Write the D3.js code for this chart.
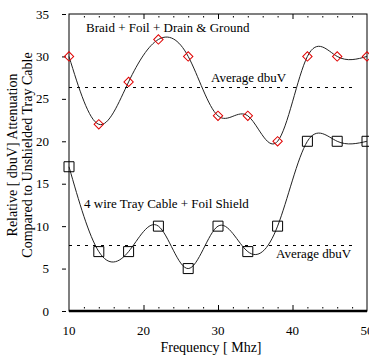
<!DOCTYPE html>
<meta charset="utf-8">
<head>
	<style>
		body { margin: 0; background: #fff; }
		text { font-family: "Liberation Serif", "Times New Roman", serif; fill: #000; }
		.curve { fill: none; stroke: #222; stroke-width: 1; }
		.avg { stroke: #000; stroke-dasharray: 3,5; }
	</style>
	<script src="https://d3js.org/d3.v7.min.js"></script>
</head>
<body></body>
<script>

	var freq = [10, 14, 18, 22, 26, 30, 34, 38, 42, 46, 50];
	var braidValues = [30, 22, 27, 32, 30, 23, 23, 20, 30, 30, 30];
	var trayValues = [17, 7, 7, 10, 5, 10, 7, 10, 20, 20, 20];
	var averages = [26.4, 7.8];
	var xTicks = [10, 20, 30, 40, 50];
	var yTicks = [0, 5, 10, 15, 20, 25, 30, 35];

	var width = 369,
			height = 358,
			margin = {top: 14, right: 2, bottom: 47, left: 69};

	var svg = d3.select("body").append("svg")
		.attr("width", width)
		.attr("height", height);

	var x = d3.scaleLinear().domain([10, 50]).range([margin.left, width - margin.right]);
	var y = d3.scaleLinear().domain([0, 35]).range([height - margin.bottom, margin.top]);

	// frame
	svg.append("rect")
		.attr("x", x(10)).attr("y", y(35))
		.attr("width", x(50) - x(10)).attr("height", y(0) - y(35))
		.attr("fill", "none").attr("stroke", "#000");

	// thick bottom line
	svg.append("line")
		.attr("x1", x(10)).attr("x2", x(50))
		.attr("y1", y(0)).attr("y2", y(0))
		.attr("stroke", "#000").attr("stroke-width", 2.5);

	// y ticks + labels
	var yAxis = svg.append("g").selectAll("g").data(yTicks).enter().append("g");
	yAxis.append("line")
		.attr("x1", x(10) - 7).attr("x2", x(10) - 3)
		.attr("y1", function(d) {return y(d) + 0.5}).attr("y2", function(d) {return y(d) + 0.5})
		.attr("stroke", "#000");
	yAxis.append("text")
		.attr("x", x(10) - 20).attr("y", function(d) {return y(d) + 4.5})
		.attr("text-anchor", "end").style("font-size", "13px")
		.text(function(d) {return d});

	// x labels
	svg.append("g").selectAll("text").data(xTicks).enter().append("text")
		.attr("x", function(d) {return x(d)}).attr("y", y(0) + 24)
		.attr("text-anchor", "middle").style("font-size", "13px")
		.text(function(d) {return d});

	// major ticks at top and bottom (inside)
	var majors = xTicks.slice(1, 4);
	svg.append("g").selectAll("line").data(majors).enter().append("line")
		.attr("x1", function(d) {return x(d) + 0.5}).attr("x2", function(d) {return x(d) + 0.5})
		.attr("y1", y(0)).attr("y2", y(0) - 6).attr("stroke", "#000");
	svg.append("g").selectAll("line").data(majors).enter().append("line")
		.attr("x1", function(d) {return x(d) + 0.5}).attr("x2", function(d) {return x(d) + 0.5})
		.attr("y1", y(35)).attr("y2", y(35) + 5).attr("stroke", "#000");

	// minor ticks (dots)
	var minors = d3.range(12, 50, 2).filter(function(d) {return d % 10 != 0});
	svg.append("g").selectAll("rect").data(minors).enter().append("rect")
		.attr("x", function(d) {return x(d)}).attr("y", y(0) - 4)
		.attr("width", 1).attr("height", 1.5).attr("fill", "#000");
	svg.append("g").selectAll("rect").data(minors).enter().append("rect")
		.attr("x", function(d) {return x(d)}).attr("y", y(35) + 2)
		.attr("width", 1).attr("height", 1.5).attr("fill", "#000");

	// average dashed lines
	svg.append("g").selectAll("line").data(averages).enter().append("line")
		.attr("class", "avg")
		.attr("x1", x(10)).attr("x2", x(48))
		.attr("y1", function(d) {return Math.round(y(d)) + 0.5})
		.attr("y2", function(d) {return Math.round(y(d)) + 0.5});

	var line = d3.line()
		.x(function(d) {return x(d[0])})
		.y(function(d) {return y(d[1])})
		.curve(d3.curveNatural);

	var braid = d3.zip(freq, braidValues),
			tray = d3.zip(freq, trayValues);

	svg.append("path").datum(braid).attr("class", "curve").attr("d", line);
	svg.append("path").datum(tray).attr("class", "curve").attr("d", line);

	// markers
	svg.append("g").selectAll("path").data(braid).enter().append("path")
		.attr("d", d3.symbol().type(d3.symbolSquare).size(44))
		.attr("transform", function(d) {return "translate(" + x(d[0]) + "," + y(d[1]) + ")rotate(45)"})
		.attr("fill", "none").attr("stroke", "#e00000");

	svg.append("g").selectAll("path").data(tray).enter().append("path")
		.attr("d", d3.symbol().type(d3.symbolSquare).size(100))
		.attr("transform", function(d) {return "translate(" + x(d[0]) + "," + y(d[1]) + ")"})
		.attr("fill", "none").attr("stroke", "#000");

	// annotations
	svg.append("text").attr("x", 86).attr("y", 32).style("font-size", "13px")
		.text("Braid + Foil + Drain & Ground");
	svg.append("text").attr("x", 211).attr("y", 82).style("font-size", "13px")
		.text("Average dbuV");
	svg.append("text").attr("x", 84).attr("y", 208).style("font-size", "13px")
		.text("4 wire Tray Cable + Foil Shield");
	svg.append("text").attr("x", 276).attr("y", 258).style("font-size", "13px")
		.text("Average dbuV");

	// axis titles
	svg.append("text")
		.attr("x", (x(10) + x(50)) / 2 - 7).attr("y", 352)
		.attr("text-anchor", "middle").style("font-size", "14px")
		.text("Frequency [ Mhz]");

	var yTitle = svg.append("text")
		.attr("transform", "translate(0," + 155 + ")rotate(-90)")
		.attr("text-anchor", "middle").style("font-size", "14px");
	yTitle.append("tspan").attr("x", 0).attr("y", 17).text("Relative [ dbuV] Attenuation");
	yTitle.append("tspan").attr("x", 0).attr("y", 32).text("Compared to Unshielded Tray Cable");

</script>
